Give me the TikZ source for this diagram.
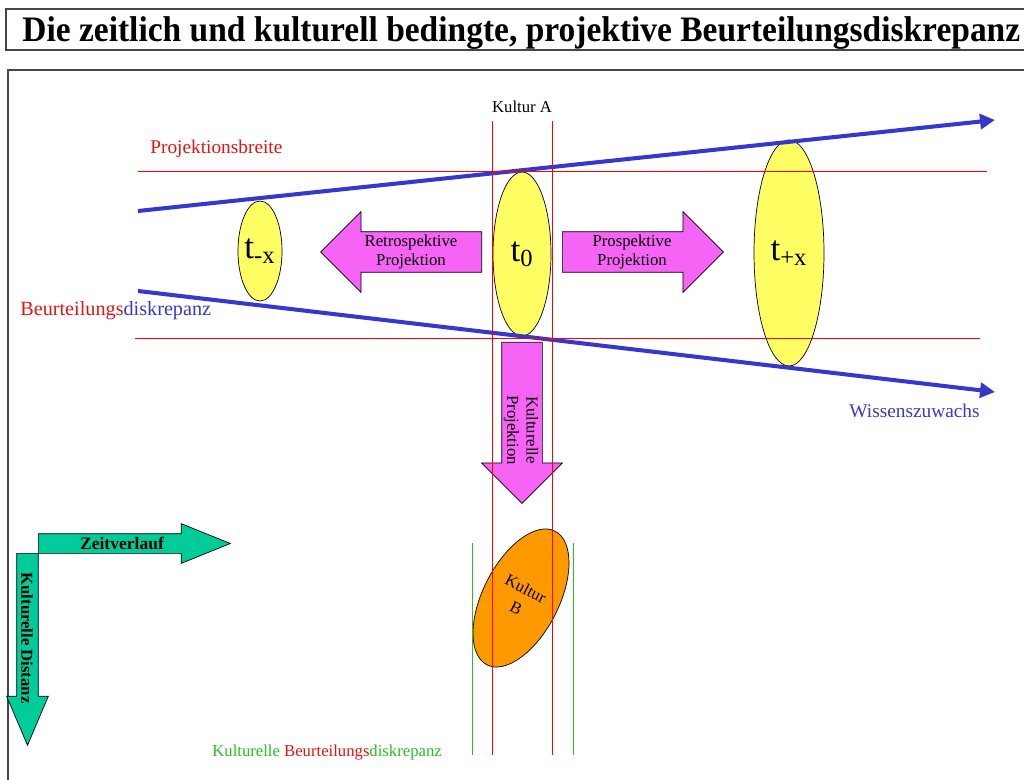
\documentclass[tikz,border=0pt]{standalone}
\usepackage{fontspec}
\setmainfont{Liberation Serif}
\usepackage{xcolor}
\usepackage{tikz}
\usetikzlibrary{shapes,arrows,arrows.meta,positioning}

\definecolor{wblue}{RGB}{55,55,205}
\definecolor{projpink}{RGB}{245,100,245}
\definecolor{tyellow}{RGB}{255,255,100}
\definecolor{korange}{RGB}{255,153,0}
\definecolor{axisgreen}{RGB}{0,204,153}
\definecolor{kgreen}{RGB}{40,190,40}
\definecolor{framegray}{RGB}{70,70,70}
\definecolor{lred}{RGB}{225,20,20}

\begin{document}
\begin{tikzpicture}[x=0.02cm,y=-0.02cm,
  tell/.style={ellipse,draw,fill=tyellow,inner sep=0pt,font=\fontsize{20}{22}\selectfont},
  projarrow/.style={single arrow,draw,fill=projpink,inner xsep=0pt,inner ysep=0.4cm,
    single arrow head extend=0.4cm,minimum width=1.6cm,minimum height=3.22cm,anchor=tail},
  axisarrow/.style={single arrow,draw,fill=axisgreen,inner xsep=0pt,
    single arrow head extend=0.2cm,minimum height=3.84cm,anchor=tail},
  small/.style={font=\fontsize{9.5}{11}\selectfont,inner sep=0pt},
  lbl/.style={font=\fontsize{11}{13}\selectfont,inner sep=0pt},
  guide/.style={line width=0.55pt},
  wissen/.style={wblue,line width=2.3pt,-{Triangle[length=0.3cm,width=0.3cm]}}]

\clip (0,0) rectangle (1024,780);

% title and frame
\draw[framegray,line width=0.9pt] (6,9) rectangle (1040,50);
\node[anchor=base west,inner sep=0pt,font=\fontsize{20.4}{24}\selectfont\bfseries] (title) at (22,42)
  {\resizebox{19.96cm}{\height}{Die zeitlich und kulturell bedingte, projektive Beurteilungsdiskrepanz}};
\draw[framegray,line width=0.9pt] (8,70) rectangle (1040,800);

% time points
\node[tell,minimum width=0.8cm,minimum height=2cm] (tmx) at (260,251) {t\textsubscript{-x}};
\node[tell,minimum width=1.16cm,minimum height=3.28cm] (t0) at (522,254) {t\textsubscript{0}};
\node[tell,minimum width=1.4cm,minimum height=4.52cm] (tpx) at (789,253) {t\textsubscript{+x}};

% projections
\node[projarrow,shape border rotate=180] (retro) at (482,252) {};
\node[projarrow] (pros) at (562,252) {};
\node[projarrow,rotate=-90] (kproj) at (522,342) {};
\node[small,align=center] (retrotxt) at (411,252) {Retrospektive\\Projektion};
\node[small,align=center] (prostxt) at (632,252) {Prospektive\\Projektion};
\node[small,align=center,rotate=-90] (kprojtxt) at (521,430) {Kulturelle\\Projektion};

% culture B
\node[ellipse,draw,fill=korange,minimum width=1.52cm,minimum height=3cm,rotate=-27,
  small,font=\fontsize{9.5}{12}\selectfont,align=center] (kb) at (521,598) {Kultur\\B};

% axes
\node[axisarrow,single arrow tip angle=46,inner ysep=0.21cm,rotate=-90] (kdist) at (27.5,553) {};
\node[axisarrow,single arrow tip angle=44,inner ysep=0.19cm] (zeit) at (38,543.5) {};
\node[font=\fontsize{10}{12}\selectfont\bfseries,inner sep=0pt] (zeittxt) at (122,543) {Zeitverlauf};
\node[font=\fontsize{9.5}{12}\selectfont\bfseries,inner sep=0pt,rotate=-90] (kdisttxt) at (27,638) {Kulturelle Distanz};

% knowledge growth
\coordinate (wtop0) at (138,211);
\coordinate (wtop1) at (995,120);
\coordinate (wbot0) at (138,291);
\coordinate (wbot1) at (995,392);
\draw[wissen] (wtop0) -- (wtop1);
\draw[wissen] (wbot0) -- (wbot1);

% guide lines
\draw[guide,red] (138,171) -- (987,171);
\draw[guide,red] (135,338) -- (980,338);
\foreach \x in {492,552}
    \draw[guide,red] (\x,121) -- (\x,755);
\foreach \x in {472,573}
    \draw[guide,kgreen] (\x,543) -- (\x,755);

% labels
\node[small] (kulta) at (522,107) {Kultur A};
\node[lbl,text=lred,anchor=west] (pbreite) at (150,149) {Projektionsbreite};
\node[lbl,anchor=west,font=\fontsize{11.5}{13}\selectfont] (bdisk) at (20,311)
  {\textcolor{lred}{Beurteilungs}\textcolor{wblue}{diskrepanz}};
\node[lbl,text=wblue,anchor=east] (wzuwachs) at (980,411) {Wissenszuwachs};
\node[small,anchor=west] (kbdisk) at (212,753)
  {\textcolor{kgreen}{Kulturelle }\textcolor{lred}{Beurteilungs}\textcolor{kgreen}{diskrepanz}};

\end{tikzpicture}
\end{document}
